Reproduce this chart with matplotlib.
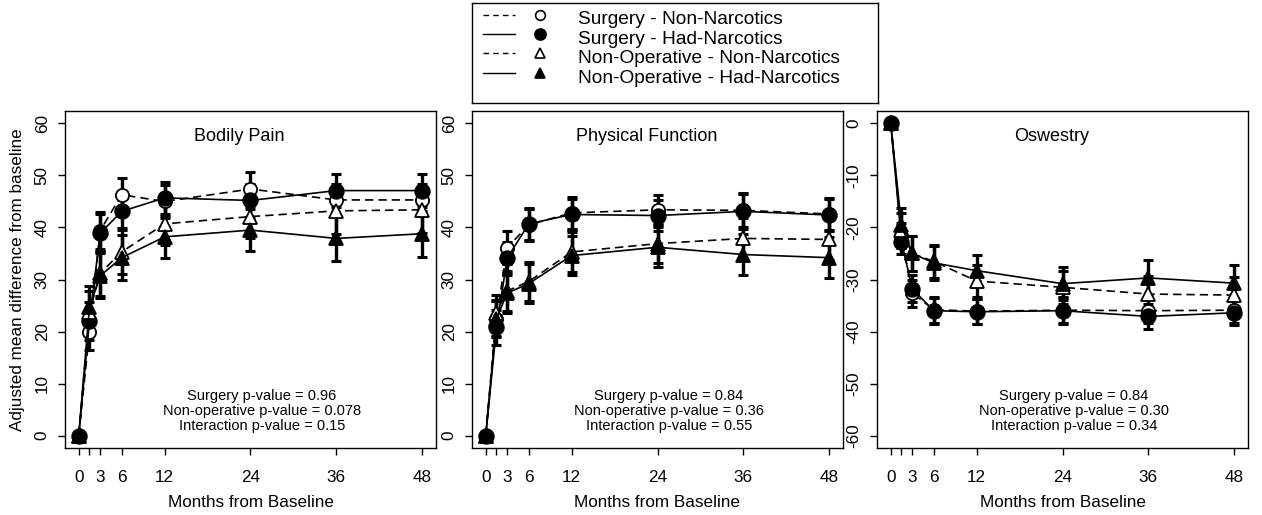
import numpy as np
import matplotlib
matplotlib.use("Agg")
import matplotlib.pyplot as plt

plt.rcParams['font.family'] = ['Liberation Sans', 'DejaVu Sans']

months = [0, 1.5, 3, 6, 12, 24, 36, 48]
month_labels = ['0', '', '3', '6', '12', '24', '36', '48']

series_names = ['Surgery - Non-Narcotics', 'Surgery - Had-Narcotics',
                'Non-Operative - Non-Narcotics', 'Non-Operative - Had-Narcotics']

# Bodily Pain
bp_surg_non = [0, 20.0, 39.4, 46.3, 45.0, 47.4, 45.3, 45.3]
bp_surg_had = [0, 22.0, 38.9, 43.1, 45.7, 45.2, 47.1, 47.1]
bp_nonop_non = [0, 23.8, 31.2, 35.3, 40.7, 42.1, 43.2, 43.4]
bp_nonop_had = [0, 24.7, 30.7, 34.2, 38.2, 39.5, 37.9, 38.8]
bp_surg_err = [0, 3.6, 3.6, 3.2, 3.1, 3.2, 3.1, 3.1]
bp_nonop_err = [0, 4.0, 4.3, 4.3, 4.1, 4.1, 4.4, 4.4]

# Physical Function
pf_surg_non = [0, 22.5, 36.1, 40.5, 42.8, 43.4, 43.3, 42.6]
pf_surg_had = [0, 20.8, 34.1, 40.7, 42.5, 42.3, 43.1, 42.4]
pf_nonop_non = [0, 23.5, 27.8, 29.6, 35.3, 36.9, 37.9, 37.7]
pf_nonop_had = [0, 22.5, 27.4, 29.2, 34.6, 36.2, 34.8, 34.2]
pf_surg_err = [0, 3.3, 3.2, 3.1, 3.0, 2.9, 3.3, 3.1]
pf_nonop_err = [0, 3.6, 3.9, 3.8, 3.8, 3.8, 4.0, 3.9]

# Oswestry
od_surg_non = [0, -21.6, -32.6, -35.8, -36.1, -35.9, -36.0, -35.9]
od_surg_had = [0, -22.7, -31.8, -36.0, -36.2, -36.0, -37.1, -36.4]
od_nonop_non = [0, -20.5, -25.0, -26.5, -30.3, -31.5, -32.8, -33.0]
od_nonop_had = [0, -19.6, -25.0, -26.8, -28.3, -30.8, -29.7, -30.7]
od_surg_err = [0, 2.4, 2.6, 2.5, 2.4, 2.5, 2.4, 2.4]
od_nonop_err = [0, 3.3, 3.3, 3.2, 3.1, 3.2, 3.4, 3.4]

titles = ['Bodily Pain', 'Physical Function', 'Oswestry']
pvalue_texts = [
    'Surgery p-value = 0.96\nNon-operative p-value = 0.078\nInteraction p-value = 0.15',
    'Surgery p-value = 0.84\nNon-operative p-value = 0.36\nInteraction p-value = 0.55',
    'Surgery p-value = 0.84\nNon-operative p-value = 0.30\nInteraction p-value = 0.34',
]

DASH = (0, (5, 3))
styles = [
    dict(ls=DASH, marker='o', mfc='white', ms=9.5),
    dict(ls='-', marker='o', mfc='black', ms=10.5),
    dict(ls=DASH, marker='^', mfc='white', ms=9.5),
    dict(ls='-', marker='^', mfc='black', ms=9.5),
]

panels = [
    ([bp_surg_non, bp_surg_had, bp_nonop_non, bp_nonop_had],
     [bp_surg_err, bp_surg_err, bp_nonop_err, bp_nonop_err],
     (-2.4, 62.4), np.arange(0, 61, 10)),
    ([pf_surg_non, pf_surg_had, pf_nonop_non, pf_nonop_had],
     [pf_surg_err, pf_surg_err, pf_nonop_err, pf_nonop_err],
     (-2.4, 62.4), np.arange(0, 61, 10)),
    ([od_surg_non, od_surg_had, od_nonop_non, od_nonop_had],
     [od_surg_err, od_surg_err, od_nonop_err, od_nonop_err],
     (-62.4, 2.4), np.arange(-60, 1, 10)),
]

W, H = 1262, 515
fig = plt.figure(figsize=(W / 100, H / 100), dpi=100)
lefts = [65, 472, 877]
axes = []
for left in lefts:
    ax = fig.add_axes([left / W, (H - 448) / H, 371 / W, 337 / H])
    axes.append(ax)

for ax, (series, errs, ylim, yticks), title, ptxt in zip(axes, panels, titles, pvalue_texts):
    for vals, err, st in zip(series, errs, styles):
        ax.errorbar(months, vals, yerr=err, fmt='none', ecolor='black',
                    elinewidth=2.4, capsize=3.5, capthick=2.2, zorder=2)
        ax.plot(months, vals, color='black', lw=1.2, ls=st['ls'],
                marker=st['marker'], ms=st['ms'], mfc=st['mfc'],
                mec='black', mew=1.3, zorder=3)
    ax.set_xlim(-1.92, 49.92)
    ax.set_ylim(*ylim)
    ax.set_xticks(months)
    ax.set_xticklabels(month_labels)
    ax.set_yticks(yticks)
    ax.set_yticklabels([str(v) for v in yticks])
    ax.tick_params(direction='out', length=5, width=1, labelsize=12.3, color='black')
    ax.tick_params(axis='x', pad=11)
    ax.tick_params(axis='y', labelrotation=90, pad=6)
    for lab in ax.get_yticklabels():
        lab.set_va('center')
    for sp in ax.spines.values():
        sp.set_linewidth(1.0)
    ax.set_xlabel('Months from Baseline', fontsize=12.3, labelpad=7)
    ax.text(0.471, 0.923, title, transform=ax.transAxes, ha='center', va='center', fontsize=13)
    ax.text(0.531, 0.109, ptxt, transform=ax.transAxes, ha='center', va='center',
            fontsize=10.5, linespacing=1.08, multialignment='center')

axes[0].set_ylabel('Adjusted mean difference from baseline', fontsize=12.3, labelpad=7)

# legend box
lx0, ly0, lw_, lh_ = 471.7, 3.3, 406.6, 100
leg = fig.add_axes([lx0 / W, (H - ly0 - lh_) / H, lw_ / W, lh_ / H])
leg.set_xlim(0, 1)
leg.set_ylim(0, 1)
leg.set_xticks([])
leg.set_yticks([])
for sp in leg.spines.values():
    sp.set_linewidth(1.0)
row_y = [0.885, 0.695, 0.50, 0.303]
leg_ms = [7, 8, 7.5, 7.5]
for name, st, y, ms in zip(series_names, styles, row_y, leg_ms):
    leg.plot([0.0285, 0.1065], [y, y], color='black', lw=1.0,
             ls=(0, (4, 3)) if st['ls'] != '-' else '-')
    leg.plot([0.168], [y], marker=st['marker'], ms=ms, mfc=st['mfc'],
             mec='black', mew=1.2, ls='none')
    leg.text(0.262, y - 0.052, name, ha='left', va='center', fontsize=13.8)

fig.savefig('out.png', dpi=100)
